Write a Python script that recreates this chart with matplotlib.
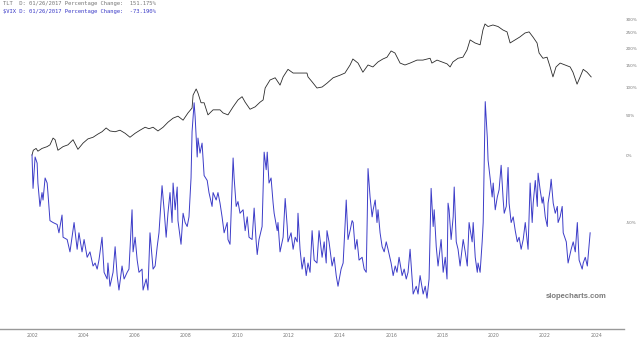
import matplotlib
matplotlib.use("Agg")
import matplotlib.pyplot as plt
from matplotlib.ticker import FixedLocator, NullLocator

# TLT: decimal year, percentage change
tlt_year = [2002.00, 2002.05, 2002.16, 2002.23, 2002.39, 2002.59, 2002.70, 2002.82, 2002.90, 2003.01,
            2003.21, 2003.40, 2003.60, 2003.79, 2003.99, 2004.18, 2004.38, 2004.57, 2004.73, 2004.89,
            2005.04, 2005.24, 2005.43, 2005.63, 2005.82, 2006.02, 2006.21, 2006.41, 2006.56, 2006.72,
            2006.91, 2007.11, 2007.30, 2007.50, 2007.69, 2007.89, 2008.08, 2008.24, 2008.28, 2008.40,
            2008.47, 2008.59, 2008.71, 2008.86, 2009.06, 2009.25, 2009.33, 2009.45, 2009.64, 2009.84,
            2010.03, 2010.19, 2010.31, 2010.50, 2010.70, 2010.89, 2011.01, 2011.09, 2011.28, 2011.48,
            2011.67, 2011.79, 2011.98, 2012.18, 2012.45, 2012.72, 2012.76, 2012.92, 2013.11, 2013.31,
            2013.50, 2013.74, 2014.01, 2014.20, 2014.40, 2014.51, 2014.71, 2014.90, 2015.10, 2015.29,
            2015.49, 2015.68, 2015.84, 2016.00, 2016.15, 2016.35, 2016.54, 2016.74, 2017.01, 2017.24,
            2017.52, 2017.59, 2017.79, 2017.98, 2018.18, 2018.30, 2018.41, 2018.61, 2018.80, 2018.96,
            2019.08, 2019.27, 2019.47, 2019.58, 2019.66, 2019.78, 2019.97, 2020.17, 2020.36, 2020.52,
            2020.64, 2020.83, 2021.02, 2021.22, 2021.38, 2021.53, 2021.69, 2021.77, 2021.92, 2022.08,
            2022.20, 2022.31, 2022.43, 2022.59, 2022.78, 2022.98, 2023.09, 2023.25, 2023.37, 2023.49,
            2023.64, 2023.80]
tlt_pct = [0, 5, 7, 4, 7, 9, 11, 19, 17, 5,
           9, 11, 17, 6, 13, 18, 20, 24, 27, 32,
           28, 27, 29, 25, 20, 25, 29, 33, 31, 33,
           28, 33, 40, 46, 49, 43, 54, 62, 85, 97,
           89, 71, 71, 51, 59, 59, 59, 54, 51, 64,
           76, 82, 72, 60, 64, 72, 76, 99, 116, 121,
           105, 123, 141, 132, 132, 132, 123, 112, 99, 101,
           109, 121, 127, 132, 152, 168, 157, 134, 152, 147,
           160, 168, 173, 191, 185, 157, 152, 157, 165, 165,
           170, 157, 165, 160, 155, 147, 160, 170, 173, 194,
           226, 216, 210, 261, 284, 274, 280, 274, 261, 254,
           216, 226, 236, 250, 254, 236, 216, 185, 170, 173,
           147, 123, 147, 157, 152, 147, 134, 107, 123, 141,
           134, 123]

# $VIX: decimal year, percentage change
vix_year = [2002.00, 2002.04, 2002.12, 2002.20, 2002.23, 2002.31, 2002.39, 2002.43, 2002.51, 2002.59,
            2002.62, 2002.70, 2002.82, 2002.98, 2003.05, 2003.17, 2003.21, 2003.37, 2003.48, 2003.56,
            2003.64, 2003.76, 2003.83, 2003.95, 2004.03, 2004.15, 2004.26, 2004.38, 2004.46, 2004.54,
            2004.61, 2004.73, 2004.81, 2004.93, 2004.96, 2005.04, 2005.16, 2005.24, 2005.32, 2005.39,
            2005.51, 2005.59, 2005.71, 2005.78, 2005.90, 2005.94, 2006.02, 2006.10, 2006.17, 2006.29,
            2006.33, 2006.45, 2006.52, 2006.60, 2006.72, 2006.80, 2006.88, 2006.95, 2007.07, 2007.15,
            2007.23, 2007.30, 2007.38, 2007.46, 2007.50, 2007.58, 2007.66, 2007.69, 2007.81, 2007.89,
            2007.97, 2008.05, 2008.12, 2008.20, 2008.24, 2008.32, 2008.36, 2008.44, 2008.47, 2008.55,
            2008.63, 2008.71, 2008.83, 2008.90, 2009.02, 2009.06, 2009.18, 2009.25, 2009.33, 2009.41,
            2009.49, 2009.61, 2009.64, 2009.72, 2009.80, 2009.84, 2009.88, 2009.96, 2010.03, 2010.11,
            2010.23, 2010.31, 2010.39, 2010.46, 2010.58, 2010.66, 2010.74, 2010.78, 2010.85, 2010.97,
            2011.01, 2011.05, 2011.13, 2011.17, 2011.24, 2011.32, 2011.40, 2011.44, 2011.56, 2011.59,
            2011.67, 2011.79, 2011.87, 2011.95, 2011.98, 2012.10, 2012.18, 2012.26, 2012.34, 2012.37,
            2012.45, 2012.53, 2012.61, 2012.69, 2012.76, 2012.84, 2012.92, 2013.00, 2013.11, 2013.19,
            2013.31, 2013.39, 2013.47, 2013.50, 2013.58, 2013.70, 2013.78, 2013.86, 2013.93, 2014.05,
            2014.13, 2014.21, 2014.25, 2014.32, 2014.40, 2014.48, 2014.52, 2014.60, 2014.67, 2014.75,
            2014.87, 2014.95, 2015.03, 2015.07, 2015.10, 2015.18, 2015.26, 2015.30, 2015.38, 2015.45,
            2015.49, 2015.57, 2015.65, 2015.73, 2015.81, 2015.88, 2016.00, 2016.08, 2016.16, 2016.23,
            2016.31, 2016.43, 2016.51, 2016.59, 2016.66, 2016.74, 2016.82, 2016.86, 2016.98, 2017.05,
            2017.13, 2017.25, 2017.33, 2017.40, 2017.48, 2017.56, 2017.64, 2017.68, 2017.76, 2017.83,
            2017.95, 2018.03, 2018.11, 2018.18, 2018.22, 2018.26, 2018.34, 2018.42, 2018.46, 2018.54,
            2018.61, 2018.69, 2018.81, 2018.89, 2018.97, 2019.04, 2019.16, 2019.20, 2019.28, 2019.36,
            2019.39, 2019.47, 2019.55, 2019.59, 2019.63, 2019.67, 2019.75, 2019.78, 2019.86, 2019.94,
            2019.98, 2020.06, 2020.14, 2020.21, 2020.29, 2020.37, 2020.41, 2020.49, 2020.56, 2020.60,
            2020.68, 2020.76, 2020.84, 2020.92, 2020.99, 2021.07, 2021.15, 2021.23, 2021.31, 2021.34,
            2021.42, 2021.50, 2021.54, 2021.62, 2021.70, 2021.73, 2021.81, 2021.89, 2021.93, 2022.01,
            2022.09, 2022.12, 2022.20, 2022.24, 2022.32, 2022.40, 2022.48, 2022.51, 2022.59, 2022.67,
            2022.71, 2022.83, 2022.90, 2023.02, 2023.10, 2023.18, 2023.26, 2023.33, 2023.45, 2023.49,
            2023.57, 2023.65, 2023.68, 2023.76]
vix_pct = [0, -29, -2, -8, -25, -41, -32, -37, -21, -25,
           -32, -49, -50, -51, -55, -46, -57, -58, -63, -57,
           -50, -62, -55, -63, -58, -65, -63, -68, -67, -69,
           -66, -57, -70, -72, -67, -74, -70, -61, -71, -75,
           -68, -72, -70, -69, -43, -63, -57, -66, -70, -69,
           -75, -72, -75, -55, -69, -68, -61, -55, -27, -43,
           -57, -45, -32, -50, -25, -43, -28, -49, -60, -45,
           -50, -52, -47, -21, 27, 71, 48, -2, 19, 2,
           13, -19, -23, -32, -41, -32, -37, -32, -39, -47,
           -55, -50, -58, -60, -28, -3, -21, -41, -38, -45,
           -43, -54, -47, -57, -58, -42, -59, -64, -58, -52,
           -30, 3, -14, 3, -25, -21, -39, -45, -54, -50,
           -63, -57, -36, -52, -59, -55, -62, -57, -59, -45,
           -62, -69, -65, -71, -67, -70, -54, -66, -67, -54,
           -65, -59, -67, -54, -59, -68, -65, -71, -74, -69,
           -67, -50, -37, -58, -54, -49, -50, -62, -58, -66,
           -65, -69, -70, -47, -13, -35, -47, -43, -37, -50,
           -43, -55, -61, -63, -59, -62, -67, -71, -68, -70,
           -65, -71, -69, -72, -70, -62, -72, -76, -74, -76,
           -71, -76, -74, -77, -72, -29, -52, -43, -61, -68,
           -58, -70, -65, -72, -39, -43, -58, -47, -28, -59,
           -62, -68, -58, -63, -68, -50, -59, -50, -65, -70,
           -67, -70, -59, -50, -5, 73, 20, -5, -21, -35,
           -25, -43, -35, -30, -10, -37, -45, -41, -12, -39,
           -50, -47, -54, -59, -57, -62, -58, -50, -59, -62,
           -25, -50, -39, -23, -41, -17, -30, -39, -35, -47,
           -52, -39, -30, -22, -39, -45, -41, -50, -47, -41,
           -55, -59, -67, -62, -59, -63, -50, -66, -69, -67,
           -65, -68, -65, -55]

tick_years = [2002, 2004, 2006, 2008, 2010, 2012, 2014, 2016, 2018, 2020, 2022, 2024]
pct_ticks = [300, 250, 200, 150, 100, 50, 0, -50]


def ratio(p):
    return [1 + v / 100 for v in p]


fig = plt.figure(figsize=(6.4, 3.43), dpi=100)
ax = fig.add_axes([0, 14 / 343, 624 / 640, 1 - 14 / 343])

ax.plot(tlt_year, ratio(tlt_pct), color='#2b2b2b', lw=0.6)
ax.plot(vix_year, ratio(vix_pct), color='#3c3cc8', lw=0.7)

ax.set_yscale('log')
ax.set_xlim(2000.752, 2025.08)
ax.set_ylim(0.1676, 4.911)

ax.yaxis.set_major_locator(FixedLocator(ratio(pct_ticks)))
ax.yaxis.set_minor_locator(NullLocator())
ax.set_yticklabels([f'{p}%' for p in pct_ticks])
ax.yaxis.tick_right()
ax.tick_params(axis='y', length=0, pad=1.5, labelsize=3.0, labelcolor='#777777')

ax.set_xticks(tick_years)
ax.set_xticklabels([str(y) for y in tick_years])
ax.tick_params(axis='x', length=0, pad=3, labelsize=3.3, labelcolor='#777777')

for s in ['top', 'left', 'right']:
    ax.spines[s].set_visible(False)
ax.spines['bottom'].set_color('#999999')
ax.spines['bottom'].set_linewidth(1.0)

# header lines
fig.text(3 / 640, 1 - 4 / 343, 'TLT  D: 01/26/2017 Percentage Change:  151.175%',
         family='DejaVu Sans Mono', fontsize=4.0, color='#777777', va='center', ha='left')
fig.text(3 / 640, 1 - 11 / 343, '$VIX D: 01/26/2017 Percentage Change:  -73.190%',
         family='DejaVu Sans Mono', fontsize=4.0, color='#3c3cc8', va='center', ha='left')

# watermark
fig.text(576 / 640, 1 - 297 / 343, 'slopecharts.com', family='Liberation Sans',
         fontweight='bold', fontsize=5.5, color='#7a7a7a', ha='center', va='center')

fig.savefig('out.png', dpi=100)
